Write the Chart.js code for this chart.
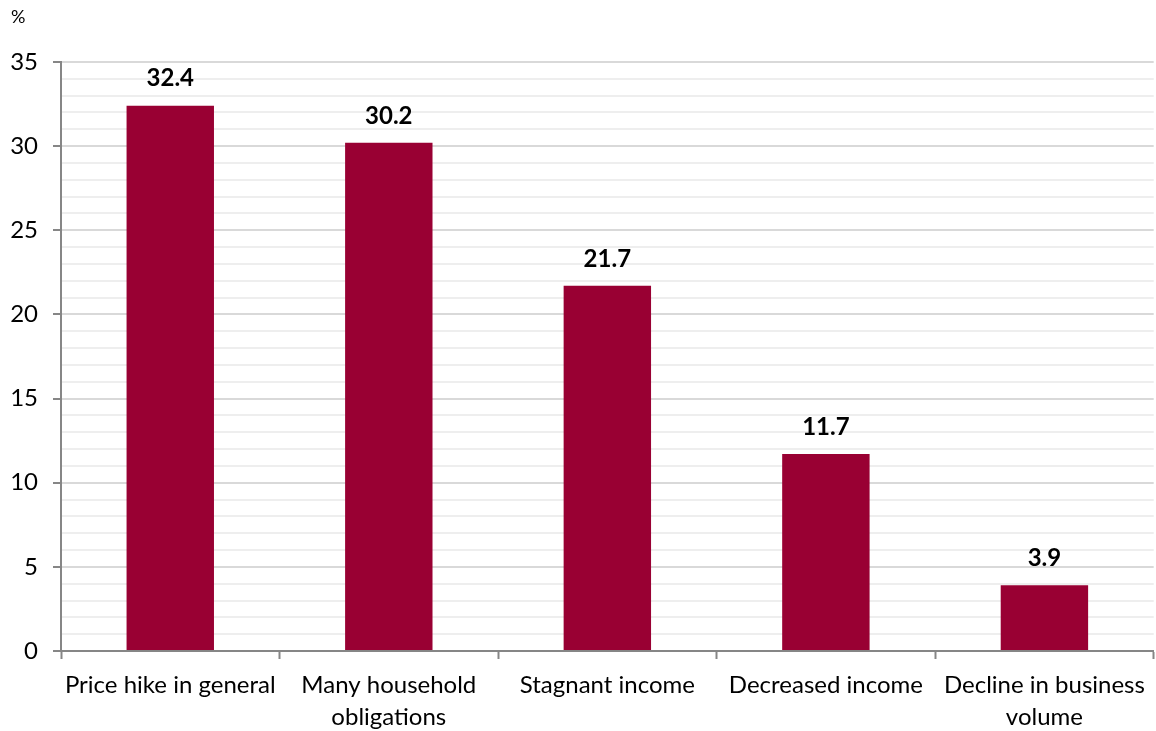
<!DOCTYPE html>
<html>
<head>
<meta charset="utf-8">
<script src="https://cdn.jsdelivr.net/npm/chart.js@4"></script>
<style>
  html, body { margin: 0; padding: 0; background: #fff; }
  #wrap { width: 1156px; height: 731px; }
</style>
</head>
<body>
<div id="wrap"><canvas id="chart"></canvas></div>
<script>
// data
var categories = [
  'Price hike in general',
  ['Many household', 'obligations'],
  'Stagnant income',
  'Decreased income',
  ['Decline in business', 'volume']
];
var shares = [32.4, 30.2, 21.7, 11.7, 3.9];
var yTicks = [0, 5, 10, 15, 20, 25, 30, 35];

var FONT = 'Lato, "Open Sans", sans-serif';
var BAR = '#990033';

// draws the value above each bar and the "%" unit
var labelPlugin = {
  id: 'barLabels',
  afterDatasetsDraw: function(chart) {
    var ctx = chart.ctx;
    var meta = chart.getDatasetMeta(0);
    ctx.save();
    ctx.font = 'bold 24px ' + FONT;
    ctx.fillStyle = '#000';
    ctx.textAlign = 'center';
    ctx.textBaseline = 'middle';
    meta.data.forEach(function(bar, i) {
      ctx.fillText(shares[i].toFixed(1), bar.x, bar.y - 27);
    });
    ctx.font = '18px ' + FONT;
    ctx.textAlign = 'left';
    ctx.fillText('%', 11, 17);
    ctx.restore();
  }
};

new Chart(document.getElementById('chart'), {
  type: 'bar',
  data: {
    labels: categories,
    datasets: [{
      data: shares,
      backgroundColor: BAR,
      borderWidth: 0,
      barPercentage: 0.4,
      categoryPercentage: 1
    }]
  },
  options: {
    responsive: true,
    maintainAspectRatio: false,
    animation: false,
    layout: { padding: { top: 62, right: 1, left: 0, bottom: 0 } },
    plugins: { legend: { display: false }, tooltip: { enabled: false } },
    scales: {
      x: {
        grid: {
          offset: true,
          drawOnChartArea: false,
          tickLength: 8,
          tickColor: '#868686',
          tickWidth: 2
        },
        border: { color: '#868686', width: 2 },
        ticks: {
          color: '#000',
          font: { family: FONT, size: 24, lineHeight: 1.3 },
          padding: 11,
          maxRotation: 0,
          autoSkip: false
        },
        afterFit: function(scale) { scale.height = 80; }
      },
      y: {
        min: 0,
        max: 35,
        grid: {
          color: function(c) { return c.tick && c.tick.value % 5 === 0 ? '#d9d9d9' : '#eeeeee'; },
          lineWidth: 2,
          tickLength: 8,
          tickColor: function(c) { return c.tick && c.tick.value % 5 === 0 ? '#868686' : 'rgba(0,0,0,0)'; },
          tickWidth: 2
        },
        border: { color: '#868686', width: 2 },
        ticks: {
          stepSize: 1,
          autoSkip: false,
          color: '#000',
          font: { family: FONT, size: 24 },
          padding: 15,
          callback: function(v) { return yTicks.indexOf(v) >= 0 ? v : ''; }
        },
        afterFit: function(scale) { scale.width = 61; }
      }
    }
  },
  plugins: [labelPlugin]
});
</script>
</body>
</html>
